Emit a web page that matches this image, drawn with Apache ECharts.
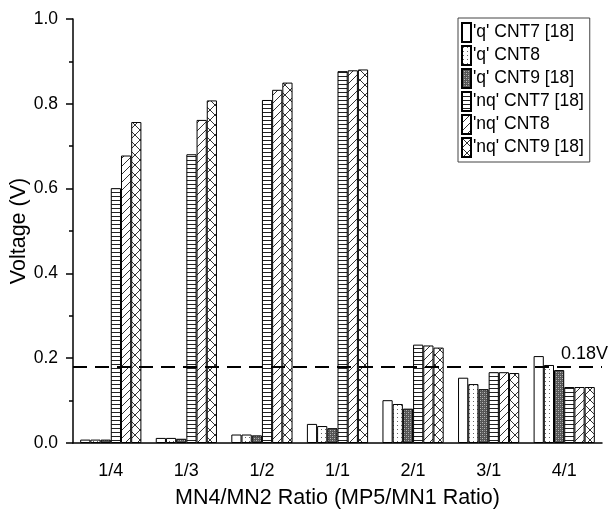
<!DOCTYPE html>
<html>
<head>
<meta charset="utf-8">
<script src="https://cdn.jsdelivr.net/npm/echarts@6/dist/echarts.min.js"></script>
<style>
  html, body { margin: 0; padding: 0; background: #fff; }
  #chart { width: 611px; height: 512px; }
</style>
</head>
<body>
<div id="chart"></div>
<script>
// data
var ratios = ['1/4', '1/3', '1/2', '1/1', '2/1', '3/1', '4/1'];
var seriesNames = ["'q' CNT7 [18]", "'q' CNT8", "'q' CNT9 [18]", "'nq' CNT7 [18]", "'nq' CNT8", "'nq' CNT9 [18]"];
var qCnt7  = [0.008, 0.012, 0.020, 0.045, 0.101, 0.154, 0.205];
var qCnt8  = [0.008, 0.012, 0.020, 0.040, 0.092, 0.139, 0.184];
var qCnt9  = [0.008, 0.010, 0.018, 0.035, 0.081, 0.127, 0.172];
var nqCnt7 = [0.601, 0.681, 0.809, 0.877, 0.232, 0.167, 0.132];
var nqCnt8 = [0.678, 0.762, 0.833, 0.879, 0.230, 0.167, 0.132];
var nqCnt9 = [0.757, 0.808, 0.850, 0.881, 0.225, 0.165, 0.132];
var threshold = 0.18;
var yTicks = [0, 0.2, 0.4, 0.6, 0.8, 1.0];

// fill patterns
function pat(w, h, draw) {
    var c = document.createElement('canvas');
    c.width = w; c.height = h;
    var g = c.getContext('2d');
    g.fillStyle = '#fff';
    g.fillRect(0, 0, w, h);
    draw(g);
    return { image: c, repeat: 'repeat' };
}
var fills = [
    '#fff',
    pat(4, 4, function (g) {   // sparse dots
        g.fillStyle = '#666';
        g.fillRect(1, 1, 1, 1);
    }),
    pat(4, 4, function (g) {   // dense dark dots
        g.fillStyle = '#555';
        g.fillRect(0, 0, 4, 4);
        g.fillStyle = '#bbb';
        g.fillRect(0, 0, 1, 1);
        g.fillRect(2, 2, 1, 1);
        g.fillStyle = '#888';
        g.fillRect(2, 0, 1, 1);
        g.fillRect(0, 2, 1, 1);
    }),
    pat(4, 4, function (g) {   // horizontal lines
        g.fillStyle = '#222';
        g.fillRect(0, 0, 4, 1);
    }),
    pat(8, 8, function (g) {   // diagonal /
        g.strokeStyle = '#333';
        g.lineWidth = 1;
        g.beginPath();
        g.moveTo(-1, 9); g.lineTo(9, -1);
        g.stroke();
    }),
    pat(10, 10, function (g) { // cross hatch
        g.strokeStyle = '#333';
        g.lineWidth = 1;
        g.beginPath();
        g.moveTo(-1, 11); g.lineTo(11, -1);
        g.moveTo(-1, -1); g.lineTo(11, 11);
        g.stroke();
    })
];
var values = [qCnt7, qCnt8, qCnt9, nqCnt7, nqCnt8, nqCnt9];

var font = 'Liberation Sans, Arial, sans-serif';
var myChart = echarts.init(document.getElementById('chart'));

var series = values.map(function (vals, i) {
    var s = {
        name: seriesNames[i],
        type: 'bar',
        data: vals,
        barGap: '0%',
        barCategoryGap: '19%',
        itemStyle: { color: fills[i], borderColor: '#000', borderWidth: 1 }
    };
    if (i === 0) {
        s.markLine = {
            silent: true,
            symbol: 'none',
            lineStyle: { color: '#000', type: [14, 8], width: 2 },
            label: {
                position: 'insideEndTop', formatter: '0.18V',
                fontFamily: font, fontSize: 18, color: '#000', distance: [-6, 4]
            },
            data: [{ yAxis: threshold }]
        };
    }
    return s;
});

option = {
    backgroundColor: '#fff',
    animation: false,
    textStyle: { fontFamily: font },
    legend: {
        orient: 'vertical',
        left: 458,
        top: 18,
        padding: [4, 6, 4, 3],
        itemWidth: 9,
        itemHeight: 19,
        itemGap: 2,
        icon: 'rect',
        borderColor: '#444',
        borderWidth: 1,
        textStyle: { fontFamily: font, fontSize: 17.5, color: '#000', padding: [0, 0, 0, -3] },
        data: seriesNames
    },
    grid: { left: 73, right: 9, top: 19, bottom: 69, outerBoundsMode: 'none' },
    xAxis: [
        {
            type: 'category',
            data: ratios,
            name: 'MN4/MN2 Ratio (MP5/MN1 Ratio)',
            nameLocation: 'middle',
            nameGap: 44,
            nameTextStyle: { fontFamily: font, fontSize: 21.5, color: '#000' },
            axisLine: { lineStyle: { color: '#000', width: 1.5 } },
            axisTick: { alignWithLabel: true, length: 8, lineStyle: { color: '#000', width: 1.5 } },
            axisLabel: { fontFamily: font, fontSize: 18, color: '#000', margin: 19 }
        },
        {
            type: 'category',
            data: ratios,
            position: 'bottom',
            axisLine: { show: false },
            axisTick: { length: 4, lineStyle: { color: '#000', width: 1.5 } },
            axisLabel: { show: false }
        }
    ],
    yAxis: {
        type: 'value',
        min: 0,
        max: 1,
        interval: 0.2,
        name: 'Voltage (V)',
        nameLocation: 'middle',
        nameGap: 43,
        nameMoveOverlap: false,
        nameTextStyle: { fontFamily: font, fontSize: 21.5, color: '#000' },
        axisLine: { show: true, lineStyle: { color: '#000', width: 1.5 } },
        axisTick: { show: true, length: 7, lineStyle: { color: '#000', width: 1.5 } },
        minorTick: { show: true, splitNumber: 2, length: 4, lineStyle: { color: '#000', width: 1.5 } },
        splitLine: { show: false },
        axisLabel: {
            fontFamily: font, fontSize: 17.5, color: '#000', margin: 15,
            formatter: function (v) { return yTicks.indexOf(Math.round(v * 10) / 10) >= 0 ? v.toFixed(1) : ''; }
        }
    },
    series: series
};
myChart.setOption(option);
</script>
</body>
</html>
